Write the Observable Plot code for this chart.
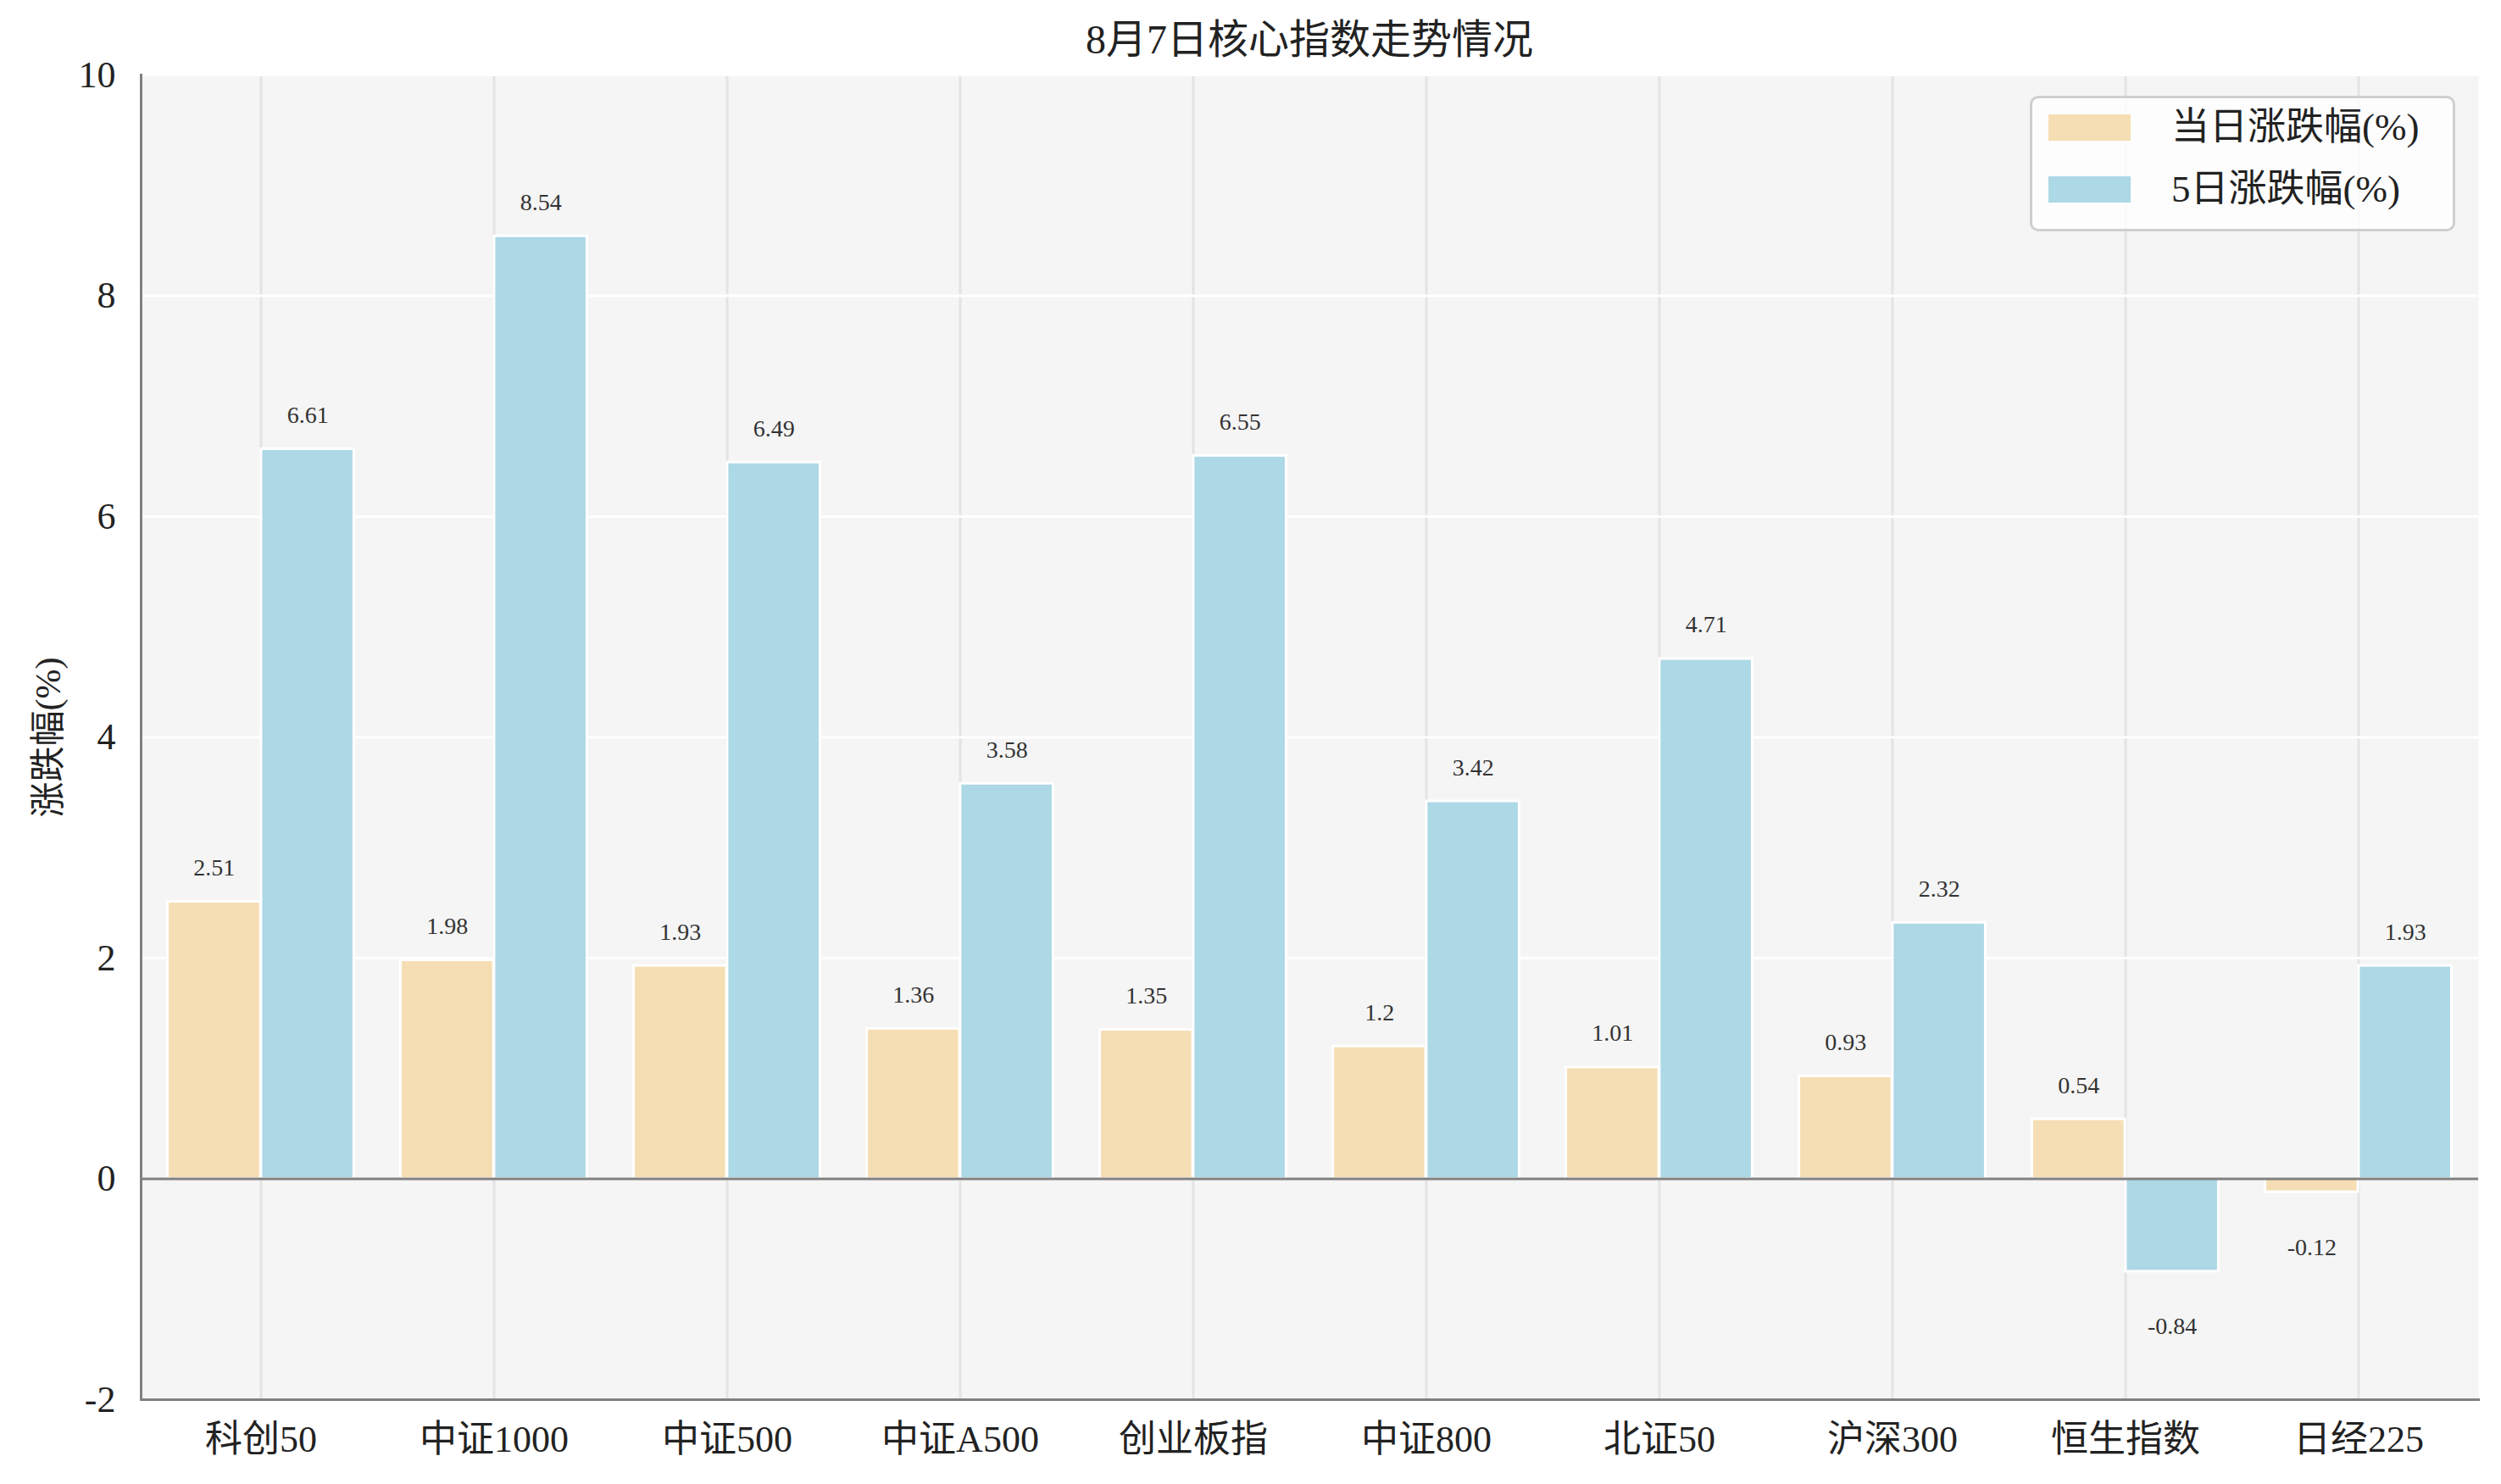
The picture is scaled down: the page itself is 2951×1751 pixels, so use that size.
<!DOCTYPE html>
<html>
<head>
<meta charset="utf-8">
<script src="https://cdn.jsdelivr.net/npm/d3@7"></script>
<script src="https://cdn.jsdelivr.net/npm/@observablehq/plot@0.6"></script>
<style>
  body { margin: 0; background: #fff; }
  #wrap { position: relative; width: 2951px; height: 1751px; font-family: 'Liberation Serif', 'Noto Sans CJK SC', serif; color: #222; }
  #title { height: 80px; line-height: 94px; padding-left: 166px; width: 2758px; text-align: center; font-size: 48px; overflow: visible; white-space: nowrap; }
  #legend { position: absolute; left: 2395px; top: 113px; width: 496px; height: 154px; border: 3px solid #cfcfcf; border-radius: 10px; background: rgba(255,255,255,0.8); box-sizing: content-box; }
  .sw { position: absolute; left: 19px; width: 97px; height: 31px; }
  .lt { position: absolute; left: 164px; font-size: 45px; line-height: 50px; height: 50px; white-space: nowrap; color: #222; }
</style>
</head>
<body>
<div id="wrap">
  <div id="title"></div>
  <div id="chart"></div>
  <div id="legend"></div>
</div>
<script>
const titleText = "8月7日核心指数走势情况";
const yLabel = "涨跌幅(%)";
const categories = ["科创50", "中证1000", "中证500", "中证A500", "创业板指", "中证800", "北证50", "沪深300", "恒生指数", "日经225"];
const dailyChange = [2.51, 1.98, 1.93, 1.36, 1.35, 1.2, 1.01, 0.93, 0.54, -0.12];
const fiveDayChange = [6.61, 8.54, 6.49, 3.58, 6.55, 3.42, 4.71, 2.32, -0.84, 1.93];
const seriesNames = ["当日涨跌幅(%)", "5日涨跌幅(%)"];
const seriesColors = ["#F5DEB3", "#ADD8E6"];
const yTicks = [-2, 0, 2, 4, 6, 8, 10];

const W = 2951, H = 1671, mL = 166, mR = 27, mT = 8, mB = 100;
const step = (W - mL - mR) / categories.length;
const fnt = "'Liberation Serif', 'Noto Sans CJK SC', serif";

const daily = categories.map((c, i) => ({cat: c, v: dailyChange[i]}));
const five = categories.map((c, i) => ({cat: c, v: fiveDayChange[i]}));

document.getElementById("title").textContent = titleText;

const labelStyle = {x: "cat", y: "v", text: d => String(d.v), fontSize: 28, fill: "#333"};

const plot = Plot.plot({
  width: W, height: H,
  marginLeft: mL, marginRight: mR, marginTop: mT, marginBottom: mB,
  style: {fontFamily: fnt, background: "transparent", color: "#222", overflow: "visible"},
  x: {type: "band", domain: categories, padding: 0, label: null},
  y: {domain: [-2, 10], ticks: yTicks, label: null},
  marks: [
    Plot.frame({fill: "#f5f5f5"}),
    Plot.gridX({stroke: "#e4e4e4", strokeOpacity: 1, strokeWidth: 3}),
    Plot.ruleY(yTicks, {stroke: "#ffffff", strokeWidth: 3}),
    Plot.barY(daily, {x: "cat", y: "v", fill: seriesColors[0], stroke: "#fff", strokeWidth: 3, insetLeft: step * 0.1, insetRight: step * 0.5}),
    Plot.barY(five, {x: "cat", y: "v", fill: seriesColors[1], stroke: "#fff", strokeWidth: 3, insetLeft: step * 0.5, insetRight: step * 0.1}),
    Plot.ruleY([0], {stroke: "#808080", strokeWidth: 3}),
    Plot.frame({anchor: "left", stroke: "#808080", strokeWidth: 3}),
    Plot.frame({anchor: "bottom", stroke: "#808080", strokeWidth: 3}),
    Plot.text(daily.filter(d => d.v >= 0), {...labelStyle, dx: -step * 0.2, dy: -40}),
    Plot.text(daily.filter(d => d.v < 0), {...labelStyle, dx: -step * 0.2, dy: 65}),
    Plot.text(five.filter(d => d.v >= 0), {...labelStyle, dx: step * 0.2, dy: -40}),
    Plot.text(five.filter(d => d.v < 0), {...labelStyle, dx: step * 0.2, dy: 65}),
    Plot.axisY({ticks: yTicks, tickFormat: d => String(d), tickSize: 0, tickPadding: 30, fontSize: 44, label: null}),
    Plot.axisX({tickSize: 0, tickPadding: 30, fontSize: 44, label: null}),
    Plot.text([yLabel], {text: d => d, frameAnchor: "left", textAnchor: "middle", rotate: -90, dx: -109, fontSize: 42, fill: "#222"})
  ]
});
document.getElementById("chart").appendChild(plot);

const legend = document.getElementById("legend");
const rowTops = [19, 92];
const textCenters = [34, 107];
seriesNames.forEach((name, i) => {
  const sw = document.createElement("div");
  sw.className = "sw";
  sw.style.top = rowTops[i] + "px";
  sw.style.background = seriesColors[i];
  legend.appendChild(sw);
  const t = document.createElement("div");
  t.className = "lt";
  t.style.top = (textCenters[i] - 25) + "px";
  t.textContent = name;
  legend.appendChild(t);
});
</script>
</body>
</html>
